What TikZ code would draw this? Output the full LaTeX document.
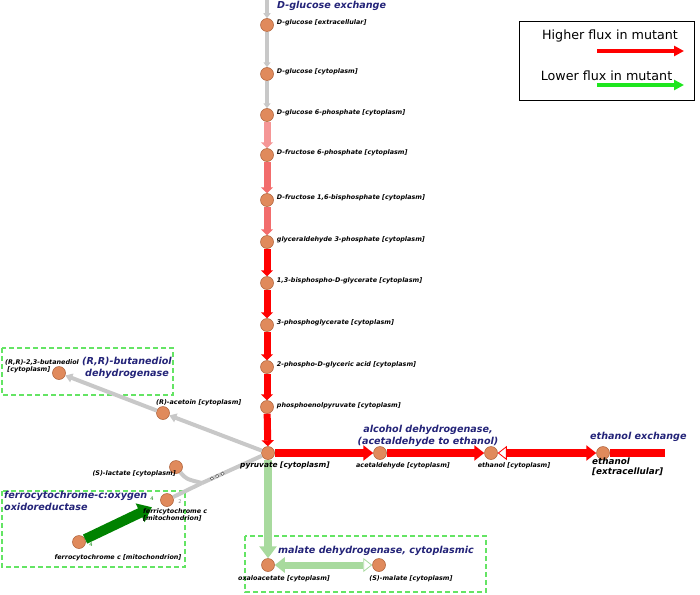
\documentclass[tikz,border=0pt]{standalone}
\usepackage{fontspec}
\setmainfont{DejaVu Sans}
\usepackage{tikz}
\usetikzlibrary{positioning,arrows.meta,calc}

\definecolor{metfill}{RGB}{224,138,92}
\definecolor{metdraw}{RGB}{170,92,52}
\definecolor{enzblue}{RGB}{35,35,120}
\definecolor{fluxgray}{RGB}{200,200,200}
\definecolor{pinkA}{RGB}{245,150,150}
\definecolor{pinkB}{RGB}{242,108,108}
\definecolor{paleg}{RGB}{168,218,158}
\definecolor{darkg}{RGB}{0,130,0}
\definecolor{brightg}{RGB}{30,230,30}
\definecolor{boxg}{RGB}{100,228,100}

\tikzset{
    openhead/.tip={Triangle[open, fill=white, length=9pt, width=14pt, line width=0.8pt]}
}

\begin{document}
\begin{tikzpicture}[
    x=1pt, y=-1pt,
    met/.style={circle, fill=metfill, draw=metdraw, line width=0.5pt, minimum size=13pt, inner sep=0pt},
    mlab/.style={font=\fontsize{6.4}{7}\selectfont\bfseries\itshape, inner sep=1pt, align=left},
    enz/.style={text=enzblue, font=\fontsize{9.6}{11.5}\selectfont\bfseries\itshape, align=center, inner sep=1pt},
    coef/.style={font=\fontsize{5}{5}\selectfont, inner sep=0pt},
    grpbox/.style={draw=boxg, dash pattern=on 5pt off 3pt, line width=1.2pt},
    gflux/.style={draw=fluxgray, line width=4.5pt, -{Triangle[length=5pt,width=7pt]}},
    pflux/.style={line width=7pt, -{Triangle[length=6pt,width=12pt]}},
    rflux/.style={draw=red, line width=8pt, -{Triangle[length=10pt,width=15pt]}},
    lgflux/.style={draw=paleg, line width=8pt, -{Triangle[length=12pt,width=17pt]}},
    keyarrow/.style={line width=3.5pt, -{Triangle[length=10pt,width=10pt]}}
]
\useasboundingbox (0,0) rectangle (700,594);

% reaction groups
\draw [grpbox] (2,348) rectangle (173,395);
\draw [grpbox] (2,491) rectangle (185,567);
\draw [grpbox] (245,536) rectangle (486,592);

% metabolites
\coordinate (gtop) at (267,-3);
\node (glcex)   [met] at (267,25)  {};
\node (glccyt)  [met] at (267,74)  {};
\node (gsixp)   [met] at (267,115) {};
\node (fsixp)   [met] at (267,155) {};
\node (fbp)     [met] at (267,200) {};
\node (gap)     [met] at (267,242) {};
\node (bpg)     [met] at (267,283) {};
\node (pgthree) [met] at (267,325) {};
\node (pgtwo)   [met] at (267,367) {};
\node (pep)     [met] at (267,407) {};
\node (pyr)     [met] at (268,453) {};
\node (acald)   [met] at (380,453) {};
\node (etoh)    [met] at (491,453) {};
\node (etohex)  [met] at (603,453) {};
\coordinate (etohend) at (665,453);
\node (oaa)     [met] at (268,565) {};
\node (mal)     [met] at (379,565) {};
\node (acetoin) [met] at (163,413) {};
\node (btd)     [met] at (59,373)  {};
\node (lac)     [met] at (176,467) {};
\node (fcyt)    [met] at (167,500) {};
\node (ferro)   [met] at (79,542)  {};
\coordinate (jct) at (202,483);

% glycolysis
\draw [gflux] (gtop) -- (glcex);
\draw [gflux] (glcex) -- (glccyt);
\draw [gflux] (glccyt) -- (gsixp);
\draw [pflux, draw=pinkA] (gsixp) -- (fsixp);
\draw [pflux, draw=pinkB] (fsixp) -- (fbp);
\draw [pflux, draw=pinkB] (fbp) -- (gap);
\draw [pflux, draw=red] (gap) -- (bpg);
\draw [pflux, draw=red] (bpg) -- (pgthree);
\draw [pflux, draw=red] (pgthree) -- (pgtwo);
\draw [pflux, draw=red] (pgtwo) -- (pep);
\draw [pflux, draw=red] (pep) -- (pyr);

% fermentation
\draw [rflux] (pyr) -- (acald);
\draw [rflux] (acald) -- (etoh);
\draw [rflux, {openhead}-{Triangle[length=10pt,width=15pt]}] (etoh) -- (etohex);
\draw [draw=red, line width=8pt] (etohex) -- (etohend);

% pyruvate carboxylation / malate
\draw [lgflux] (pyr) -- (oaa);
\draw [lgflux, line width=7pt, {Triangle[length=10pt,width=15pt]}-{openhead}] (oaa) -- (mal);

% acetoin / butanediol
\draw [gflux, line width=4pt, -{Triangle[length=7pt,width=9pt]}] (pyr) -- (acetoin);
\draw [gflux, line width=4pt, -{Triangle[length=7pt,width=9pt]}] (acetoin) -- (btd);

% lactate / cytochrome c
\draw [draw=fluxgray, line width=4pt] (pyr) -- (jct);
\draw [draw=fluxgray, line width=4pt] (lac) .. controls (186,479) .. (jct);
\draw [draw=fluxgray, line width=4pt] (jct) -- (fcyt);
\foreach \t in {0.15,0.23,0.31}
    \draw [fill=white, draw=gray!70!black, line width=0.5pt] ($(jct)!\t!(pyr)$) circle (1.7pt);
\draw [draw=darkg, line width=10pt, shorten >=10pt, -{Triangle[length=13pt,width=20pt]}] (ferro) -- (fcyt);
\node (cfour)  [coef, text=darkg] at (91,545)  {4};
\node (cfourb) [coef, text=darkg] at (152,499) {4};
\node (ctwo)   [coef, text=gray]  at (180,502) {2};

% metabolite labels
\node (glcexL)   [mlab, right=2pt of glcex, yshift=2pt]   {D-glucose [extracellular]};
\node (glccytL)  [mlab, right=2pt of glccyt, yshift=2pt]  {D-glucose [cytoplasm]};
\node (gsixpL)   [mlab, right=2pt of gsixp, yshift=2pt]   {D-glucose 6-phosphate [cytoplasm]};
\node (fsixpL)   [mlab, right=2pt of fsixp, yshift=2pt]   {D-fructose 6-phosphate [cytoplasm]};
\node (fbpL)     [mlab, right=2pt of fbp, yshift=2pt]     {D-fructose 1,6-bisphosphate [cytoplasm]};
\node (gapL)     [mlab, right=2pt of gap, yshift=2pt]     {glyceraldehyde 3-phosphate [cytoplasm]};
\node (bpgL)     [mlab, right=2pt of bpg, yshift=2pt]     {1,3-bisphospho-D-glycerate [cytoplasm]};
\node (pgthreeL) [mlab, right=2pt of pgthree, yshift=2pt] {3-phosphoglycerate [cytoplasm]};
\node (pgtwoL)   [mlab, right=2pt of pgtwo, yshift=2pt]   {2-phospho-D-glyceric acid [cytoplasm]};
\node (pepL)     [mlab, right=2pt of pep, yshift=1.5pt]   {phosphoenolpyruvate [cytoplasm]};
\node (pyrL)     [mlab, anchor=west, font=\fontsize{7.4}{8}\selectfont\bfseries\itshape] at (239,465) {pyruvate [cytoplasm]};
\node (acaldL)   [mlab] at (403,466)                      {acetaldehyde [cytoplasm]};
\node (etohL)    [mlab] at (514,466)                      {ethanol [cytoplasm]};
\node (etohexL)  [mlab, anchor=north west, font=\fontsize{8.8}{10}\selectfont\bfseries\itshape]
    at (591,457) {ethanol\\{}[extracellular]};
\node (oaaL)     [mlab] at (284,579)                      {oxaloacetate [cytoplasm]};
\node (malL)     [mlab] at (411,579)                      {(S)-malate [cytoplasm]};
\node (acetoinL) [mlab, anchor=south west] at (155,407)   {(R)-acetoin [cytoplasm]};
\node (btdL)     [mlab, anchor=north west] at (4,358)     {(R,R)-2,3-butanediol\\\ {}[cytoplasm]};
\node (lacL)     [mlab, anchor=east] at (177,474)         {(S)-lactate [cytoplasm]};
\node (fcytL)    [mlab, anchor=north west] at (142,507)   {ferricytochrome c\\{}[mitochondrion]};
\node (ferroL)   [mlab] at (118,558)                      {ferrocytochrome c [mitochondrion]};

% enzyme labels
\node (glcexch)  [enz, anchor=west] at (276,6)          {D-glucose exchange};
\node (etohexch) [enz, anchor=west] at (589,437)        {ethanol exchange};
\node (adh)      [enz] at (428,436)                     {alcohol dehydrogenase,\\(acetaldehyde to ethanol)};
\node (bdh)      [enz] at (127,368)                     {(R,R)-butanediol\\dehydrogenase};
\node (cox)      [enz, anchor=north west, align=left] at (3,490) {ferrocytochrome-c:oxygen\\oxidoreductase};
\node (mdh)      [enz] at (376,551)                     {malate dehydrogenase, cytoplasmic};

% key
\node (key) [draw=black, line width=0.8pt, minimum width=175pt, minimum height=79pt, inner sep=0pt] at (606.5,60.5) {};
\node (hiL) [font=\fontsize{12.7}{14}\selectfont, inner sep=1pt] at (610,36) {Higher flux in mutant};
\node (loL) [font=\fontsize{12.7}{14}\selectfont, inner sep=1pt] at (606.5,76) {Lower flux in mutant};
\coordinate (hiA) at (597,51);
\coordinate (hiB) at (684,51);
\coordinate (loA) at (597,85);
\coordinate (loB) at (684,85);
\draw [keyarrow, draw=red] (hiA) -- (hiB);
\draw [keyarrow, draw=brightg] (loA) -- (loB);

\end{tikzpicture}
\end{document}
